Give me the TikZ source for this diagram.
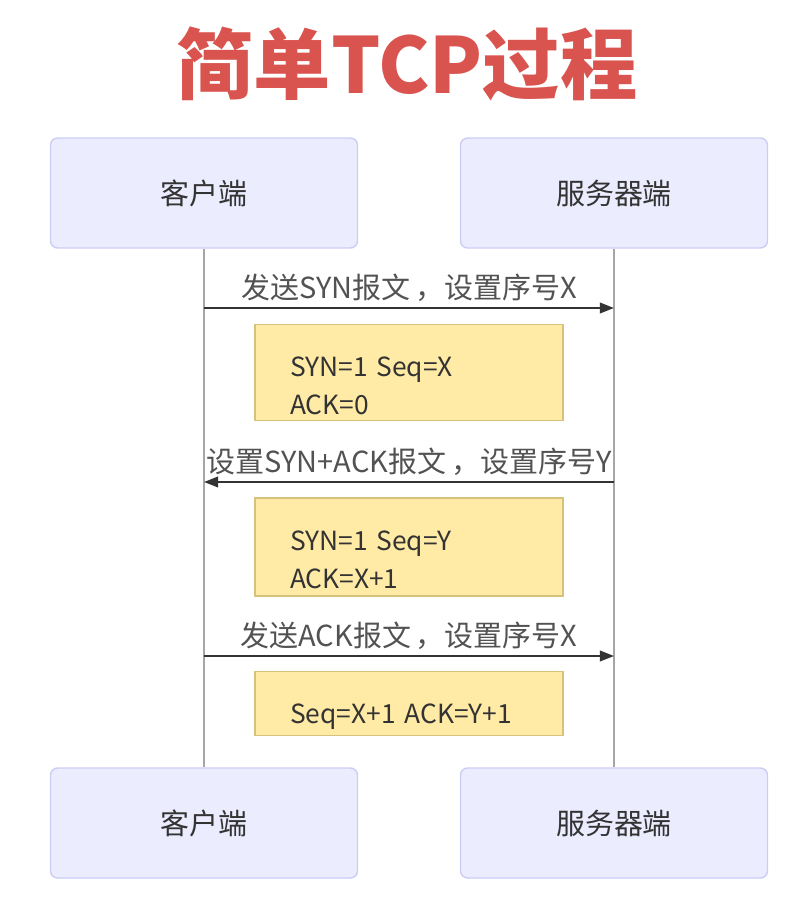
\documentclass[tikz,border=0pt]{standalone}
\usepackage{fontspec}
\setmainfont{Noto Sans CJK SC}
\usetikzlibrary{arrows.meta}
\usetikzlibrary{positioning}
\definecolor{titlered}{HTML}{D9534F}
\definecolor{actorfill}{HTML}{ECECFF}
\definecolor{actorline}{HTML}{CCCCF5}
\definecolor{notefill}{HTML}{FFEBA6}
\definecolor{noteline}{HTML}{D6C27A}
\definecolor{inkgray}{HTML}{333333}

\begin{document}
\begin{tikzpicture}[x=0.02cm,y=-0.02cm,font=\fontsize{16.5}{19}\selectfont,
                actor/.style={rectangle, rounded corners=4pt, draw=actorline, fill=actorfill, line width=0.8pt,
                    minimum width=6.14cm, minimum height=2.2cm, text=inkgray, font=\fontsize{16.5}{19}\selectfont},
                note/.style={rectangle, draw=noteline, fill=notefill, line width=0.8pt,
                    minimum width=6.16cm, text width=4.76cm, align=left, text=inkgray,
                    font=\fontsize{15}{21.5}\selectfont, execute at begin node={\rule{0pt}{26pt}}},
                lifeline/.style={draw=gray!70, line width=0.6pt},
                msg/.style={draw=inkgray, line width=1.1pt, -{Triangle[length=8pt,width=6pt]}},
                msglabel/.style={above, text=inkgray!85, inner sep=3pt}
            ]
            \useasboundingbox (0,0) rectangle (800,909);
            \node[font=\bfseries\fontsize{44}{48}\selectfont, text=titlered](title) at (407,64){简单TCP过程};
            \node[actor](ctop) at (204,193){客户端};
            \node[actor](stop) at (614,193){服务器端};
            \node[actor](cbot) at (204,823){客户端};
            \node[actor](sbot) at (614,823){服务器端};
            \path[lifeline] (ctop) -- (cbot);
            \path[lifeline] (stop) -- (sbot);
            \coordinate (c1) at (204,308);
            \coordinate (s1) at (614,308);
            \coordinate (c2) at (204,482);
            \coordinate (s2) at (614,482);
            \coordinate (c3) at (204,656);
            \coordinate (s3) at (614,656);
            \path[msg] (c1) -- node[msglabel](m1){发送SYN报文\,，设置序号X} (s1);
            \node[note, minimum height=1.9cm](n1) at (409,372.5){SYN=1 Seq=X\\ACK=0};
            \path[msg] (s2) -- node[msglabel](m2){设置SYN+ACK报文\,，设置序号Y} (c2);
            \node[note, minimum height=1.96cm](n2) at (409,547){SYN=1 Seq=Y\\ACK=X+1};
            \path[msg] (c3) -- node[msglabel](m3){发送ACK报文\,，设置序号X} (s3);
            \node[note, minimum height=1.26cm](n3) at (409,703.5){Seq=X+1 ACK=Y+1};
        \end{tikzpicture}
\end{document}
